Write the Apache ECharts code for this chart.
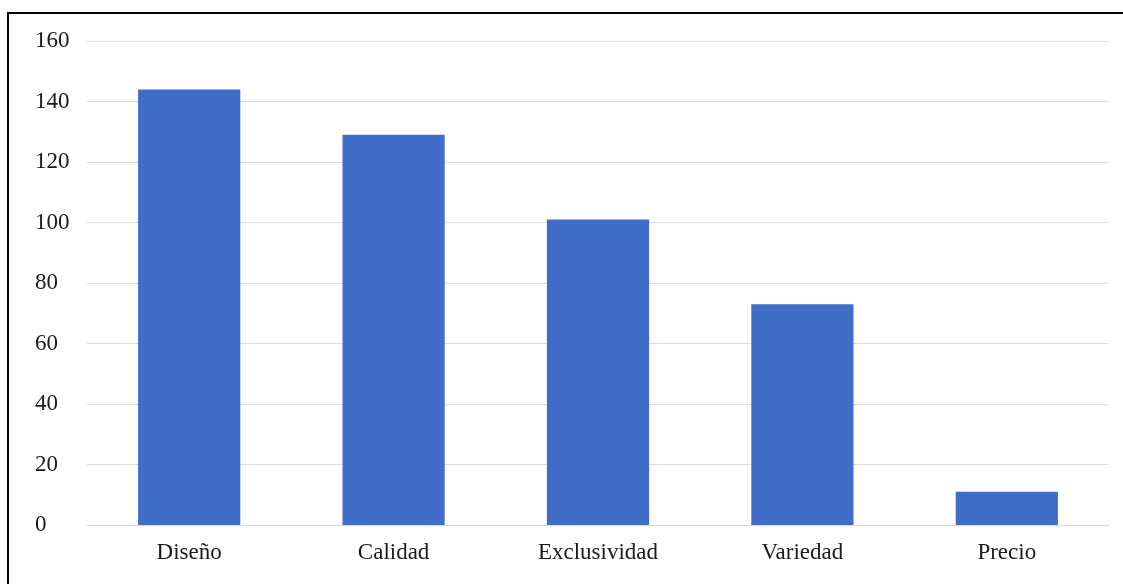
<!DOCTYPE html>
<html>
<head>
<meta charset="utf-8">
<script src="https://cdn.jsdelivr.net/npm/echarts@6/dist/echarts.min.js"></script>
<style>html,body{margin:0;padding:0;background:#fff}#c{width:1123px;height:584px}</style>
</head>
<body>
<div id="c"></div>
<script>
const categories = ['Diseño', 'Calidad', 'Exclusividad', 'Variedad', 'Precio'];
const values = [144, 129, 101, 73, 11];
const yTicks = [0, 20, 40, 60, 80, 100, 120, 140, 160];

const chart = echarts.init(document.getElementById('c'), null, {renderer: 'canvas'});
chart.setOption({
  animation: false,
  backgroundColor: '#ffffff',
  textStyle: {fontFamily: '"Liberation Serif", "DejaVu Serif", serif'},
  grid: {left: 87, right: 14, top: 41, bottom: 59, containLabel: false},
  graphic: [{
    type: 'rect', silent: true,
    shape: {x: 8, y: 13, width: 1300, height: 800},
    style: {fill: 'none', stroke: '#000', lineWidth: 2}
  }],
  xAxis: {
    type: 'category',
    data: categories,
    axisLine: {show: true, lineStyle: {color: '#d9d9d9', width: 1}},
    axisTick: {show: false},
    axisLabel: {color: '#1a1a1a', fontSize: 23, margin: 16, fontFamily: '"Liberation Serif", serif'}
  },
  yAxis: {
    type: 'value',
    min: yTicks[0], max: yTicks[yTicks.length - 1], interval: 20,
    axisLine: {show: false},
    axisTick: {show: false},
    splitLine: {lineStyle: {color: '#dcdcdc', width: 1}},
    axisLabel: {color: '#1a1a1a', fontSize: 23, align: 'left', margin: 52, fontFamily: '"Liberation Serif", serif'}
  },
  series: [{
    type: 'bar',
    data: values,
    barWidth: '50%',
    itemStyle: {color: '#3f6dc8'}
  }]
});
</script>
</body>
</html>
